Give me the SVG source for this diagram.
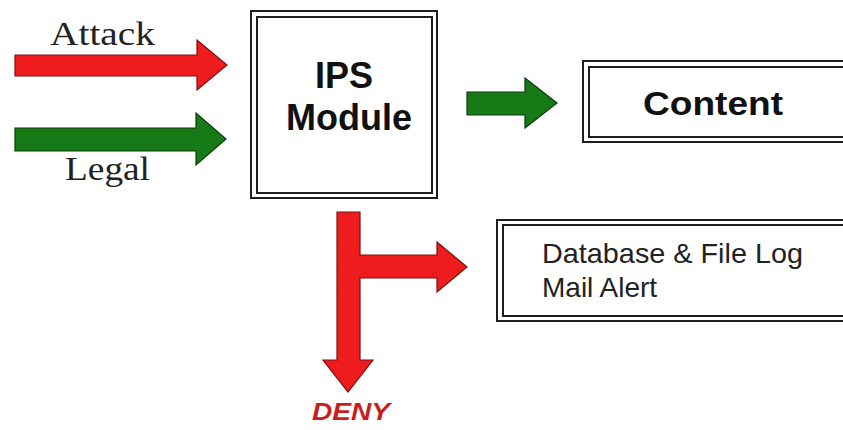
<svg xmlns="http://www.w3.org/2000/svg" width="843" height="430" viewBox="0 0 843 430">
  <style>
    .frame { fill: none; stroke: #1e1e1e; stroke-width: 2; }
    .red { fill: #ee1c1c; stroke: #7a1010; stroke-width: 1.2; stroke-linejoin: miter; }
    .green { fill: #167a16; stroke: #0c3a0c; stroke-width: 1.2; stroke-linejoin: miter; }
    .serif { font-family: "Liberation Serif", "Times New Roman", serif; fill: #222; }
    .bold { font-family: "Liberation Sans", Arial, sans-serif; font-weight: bold; fill: #111; }
    .plain { font-family: "Liberation Sans", Arial, sans-serif; fill: #222; }
  </style>
  <rect width="843" height="430" fill="#ffffff"/>

  <g id="connectors">
    <path id="attack-arrow" class="red" d="M15,55 H197 V40 L227,65 L197,90 V76 H15 Z"/>
    <path id="legal-arrow" class="green" d="M15,128 H196 V113 L226,139 L196,165 V151 H15 Z"/>
    <path id="content-arrow" class="green" d="M467,92 H525 V78 L557,103 L525,128 V115 H467 Z"/>
    <path id="deny-arrow" class="red" d="M337,212 H360 V255 H437 V242 L467,267 L437,292 V278 H360 V360 H373 L348,392 L323,360 H337 Z"/>
  </g>

  <g id="label-attack">
    <text class="serif" x="50" y="45" font-size="33" textLength="105" lengthAdjust="spacingAndGlyphs">Attack</text>
  </g>
  <g id="label-legal">
    <text class="serif" x="65" y="180" font-size="33" textLength="85" lengthAdjust="spacingAndGlyphs">Legal</text>
  </g>

  <g id="ips-module">
    <rect class="frame" x="251" y="11" width="186" height="187"/>
    <rect class="frame" x="257" y="17" width="175" height="176"/>
    <text class="bold" x="344" y="88" font-size="36" text-anchor="middle">IPS</text>
    <text class="bold" x="349" y="130" font-size="36" text-anchor="middle">Module</text>
  </g>

  <g id="content">
    <rect class="frame" x="583" y="61" width="270" height="81"/>
    <rect class="frame" x="589" y="67" width="264" height="70"/>
    <text class="bold" x="643" y="115" font-size="34" textLength="140" lengthAdjust="spacingAndGlyphs">Content</text>
  </g>

  <g id="log-alert">
    <rect class="frame" x="497" y="220" width="356" height="101"/>
    <rect class="frame" x="503" y="225" width="350" height="91"/>
    <text class="plain" x="542" y="263" font-size="28" textLength="261" lengthAdjust="spacingAndGlyphs">Database &amp; File Log</text>
    <text class="plain" x="542" y="297" font-size="28">Mail Alert</text>
  </g>

  <g id="deny">
    <text x="312" y="420" font-family="Liberation Sans, Arial, sans-serif" font-weight="bold" font-style="italic" font-size="24" fill="#c81e1e" textLength="78" lengthAdjust="spacingAndGlyphs">DENY</text>
  </g>
</svg>
